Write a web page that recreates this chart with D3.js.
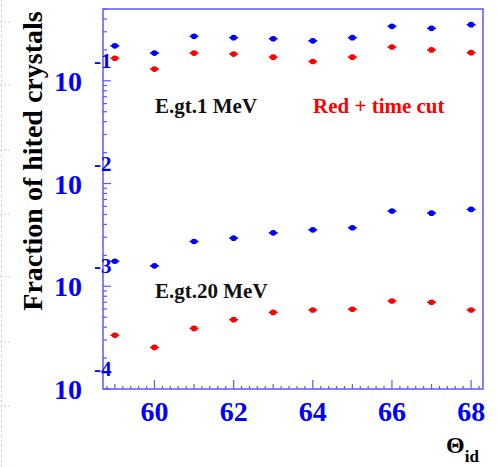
<!DOCTYPE html>
<html><head><meta charset="utf-8">
<script src="https://cdn.jsdelivr.net/npm/d3@7"></script>
<style>body{margin:0;background:#fff}svg{display:block}
svg text{font-family:"Liberation Serif","Tinos","Times New Roman","DejaVu Serif",serif;font-weight:bold}</style>
</head><body>
<svg id="c" width="498" height="467"></svg>
<script>
const theta = [59,60,61,62,63,64,65,66,67,68];
const blue1MeV = [0.219,0.186,0.271,0.263,0.257,0.245,0.263,0.339,0.324,0.352];
const red1MeV = [0.166,0.130,0.186,0.182,0.170,0.154,0.170,0.213,0.200,0.188];
const blue20MeV = [1.75e-3,1.58e-3,2.73e-3,2.94e-3,3.31e-3,3.54e-3,3.71e-3,5.39e-3,5.15e-3,5.60e-3];
const red20MeV = [3.33e-4,2.54e-4,3.89e-4,4.73e-4,5.57e-4,5.87e-4,5.97e-4,7.19e-4,6.98e-4,5.87e-4];
const xTicks = [60,62,64,66,68];
const yDecades = [-1,-2,-3,-4];
const yTitle = "Fraction of hited crystals";
const label1 = "E.gt.1 MeV", label2 = "Red + time cut", label3 = "E.gt.20 MeV";

const svg = d3.select("#c");
const L=103,R=483,T=9,B=389;
const x = d3.scaleLinear().domain([58.7,68.3]).range([L,R]);
const y = d3.scaleLog().domain([1e-4,0.5]).range([B,T]);
const axisCol = "#5a5aff", blue="#0000ff", red="#ff0000";

// faint slide decoration on left edge
const deco = svg.append("g").attr("stroke","#c8ccf5").attr("stroke-width",1);
deco.append("line").attr("x1",1.5).attr("x2",1.5).attr("y1",0).attr("y2",467).attr("stroke-dasharray","2,3");
[22,85,150,214,277,342,406].forEach(v=>deco.append("line").attr("x1",0).attr("x2",12).attr("y1",v).attr("y2",v).attr("stroke-dasharray","2,2"));

// frame
svg.append("rect").attr("x",L).attr("y",T).attr("width",R-L).attr("height",B-T)
  .attr("fill","none").attr("stroke",axisCol).attr("stroke-width",1.5);

// y ticks (inward)
const yt = svg.append("g").attr("stroke",axisCol).attr("stroke-width",1.2);
for(let e=-4;e<=-1;e++){
  for(let m=1;m<=9;m++){
    const v=m*Math.pow(10,e);
    if(v<1e-4||v>0.5) continue;
    const len = m===1?8:4;
    yt.append("line").attr("x1",L).attr("x2",L+len).attr("y1",y(v)).attr("y2",y(v));
  }
}
// x ticks (inward)
const xt = svg.append("g").attr("stroke",axisCol).attr("stroke-width",1.2);
d3.range(58.8,68.3,0.2).forEach(v=>{
  const r=Math.round(v*5)/5;
  const isMajor = Math.abs(r-Math.round(r))<1e-6 && Math.round(r)%2===0;
  const isMid = Math.abs(r-Math.round(r))<1e-6 && !isMajor;
  const len = isMajor?9:(isMid?5:3);
  xt.append("line").attr("x1",x(r)).attr("x2",x(r)).attr("y1",B).attr("y2",B-len);
});

// x tick labels
svg.append("g").selectAll("text").data(xTicks).join("text")
  .attr("x",d=>x(d)).attr("y",421).attr("text-anchor","middle")
  .attr("font-size",28).attr("fill",blue)
  .text(d=>d);

// y tick labels: 10 with exponent
const yl = svg.append("g").attr("fill",blue);
yDecades.forEach(e=>{
  const py = y(Math.pow(10,e));
  yl.append("text").attr("x",82).attr("y",py+10).attr("text-anchor","end").attr("font-size",28).text("10");
  yl.append("text").attr("x",94).attr("y",py-13).attr("font-size",21).text("-"+Math.abs(e));
});

// axis titles
svg.append("text").attr("transform","translate(42,161) rotate(-90)").attr("text-anchor","middle")
  .attr("font-size",28).attr("fill","#000").text(yTitle);
const th = svg.append("text").attr("x",446).attr("y",453).attr("fill","#000");
th.append("tspan").attr("font-size",24).text("Θ");
th.append("tspan").attr("font-size",17).attr("dy",9).text("id");

// annotations
svg.append("text").attr("x",155).attr("y",113).attr("font-size",21).attr("fill","#111").text(label1);
svg.append("text").attr("x",313).attr("y",113).attr("font-size",21).attr("fill",red).text(label2);
svg.append("text").attr("x",155).attr("y",298).attr("font-size",21).attr("fill","#111").text(label3);

// markers
function series(vals,col){
  const g = svg.append("g");
  const pts = theta.map((t,i)=>[t,vals[i]]);
  g.selectAll("line").data(pts).join("line")
    .attr("x1",d=>x(d[0])-4.5).attr("x2",d=>x(d[0])+4.5).attr("y1",d=>y(d[1])).attr("y2",d=>y(d[1]))
    .attr("stroke",col).attr("stroke-width",1.5);
  g.selectAll("ellipse").data(pts).join("ellipse")
    .attr("cx",d=>x(d[0])).attr("cy",d=>y(d[1])).attr("rx",3.2).attr("ry",2.8).attr("fill",col);
}
series(blue1MeV,blue); series(red1MeV,red); series(blue20MeV,blue); series(red20MeV,red);
</script>
</body></html>
